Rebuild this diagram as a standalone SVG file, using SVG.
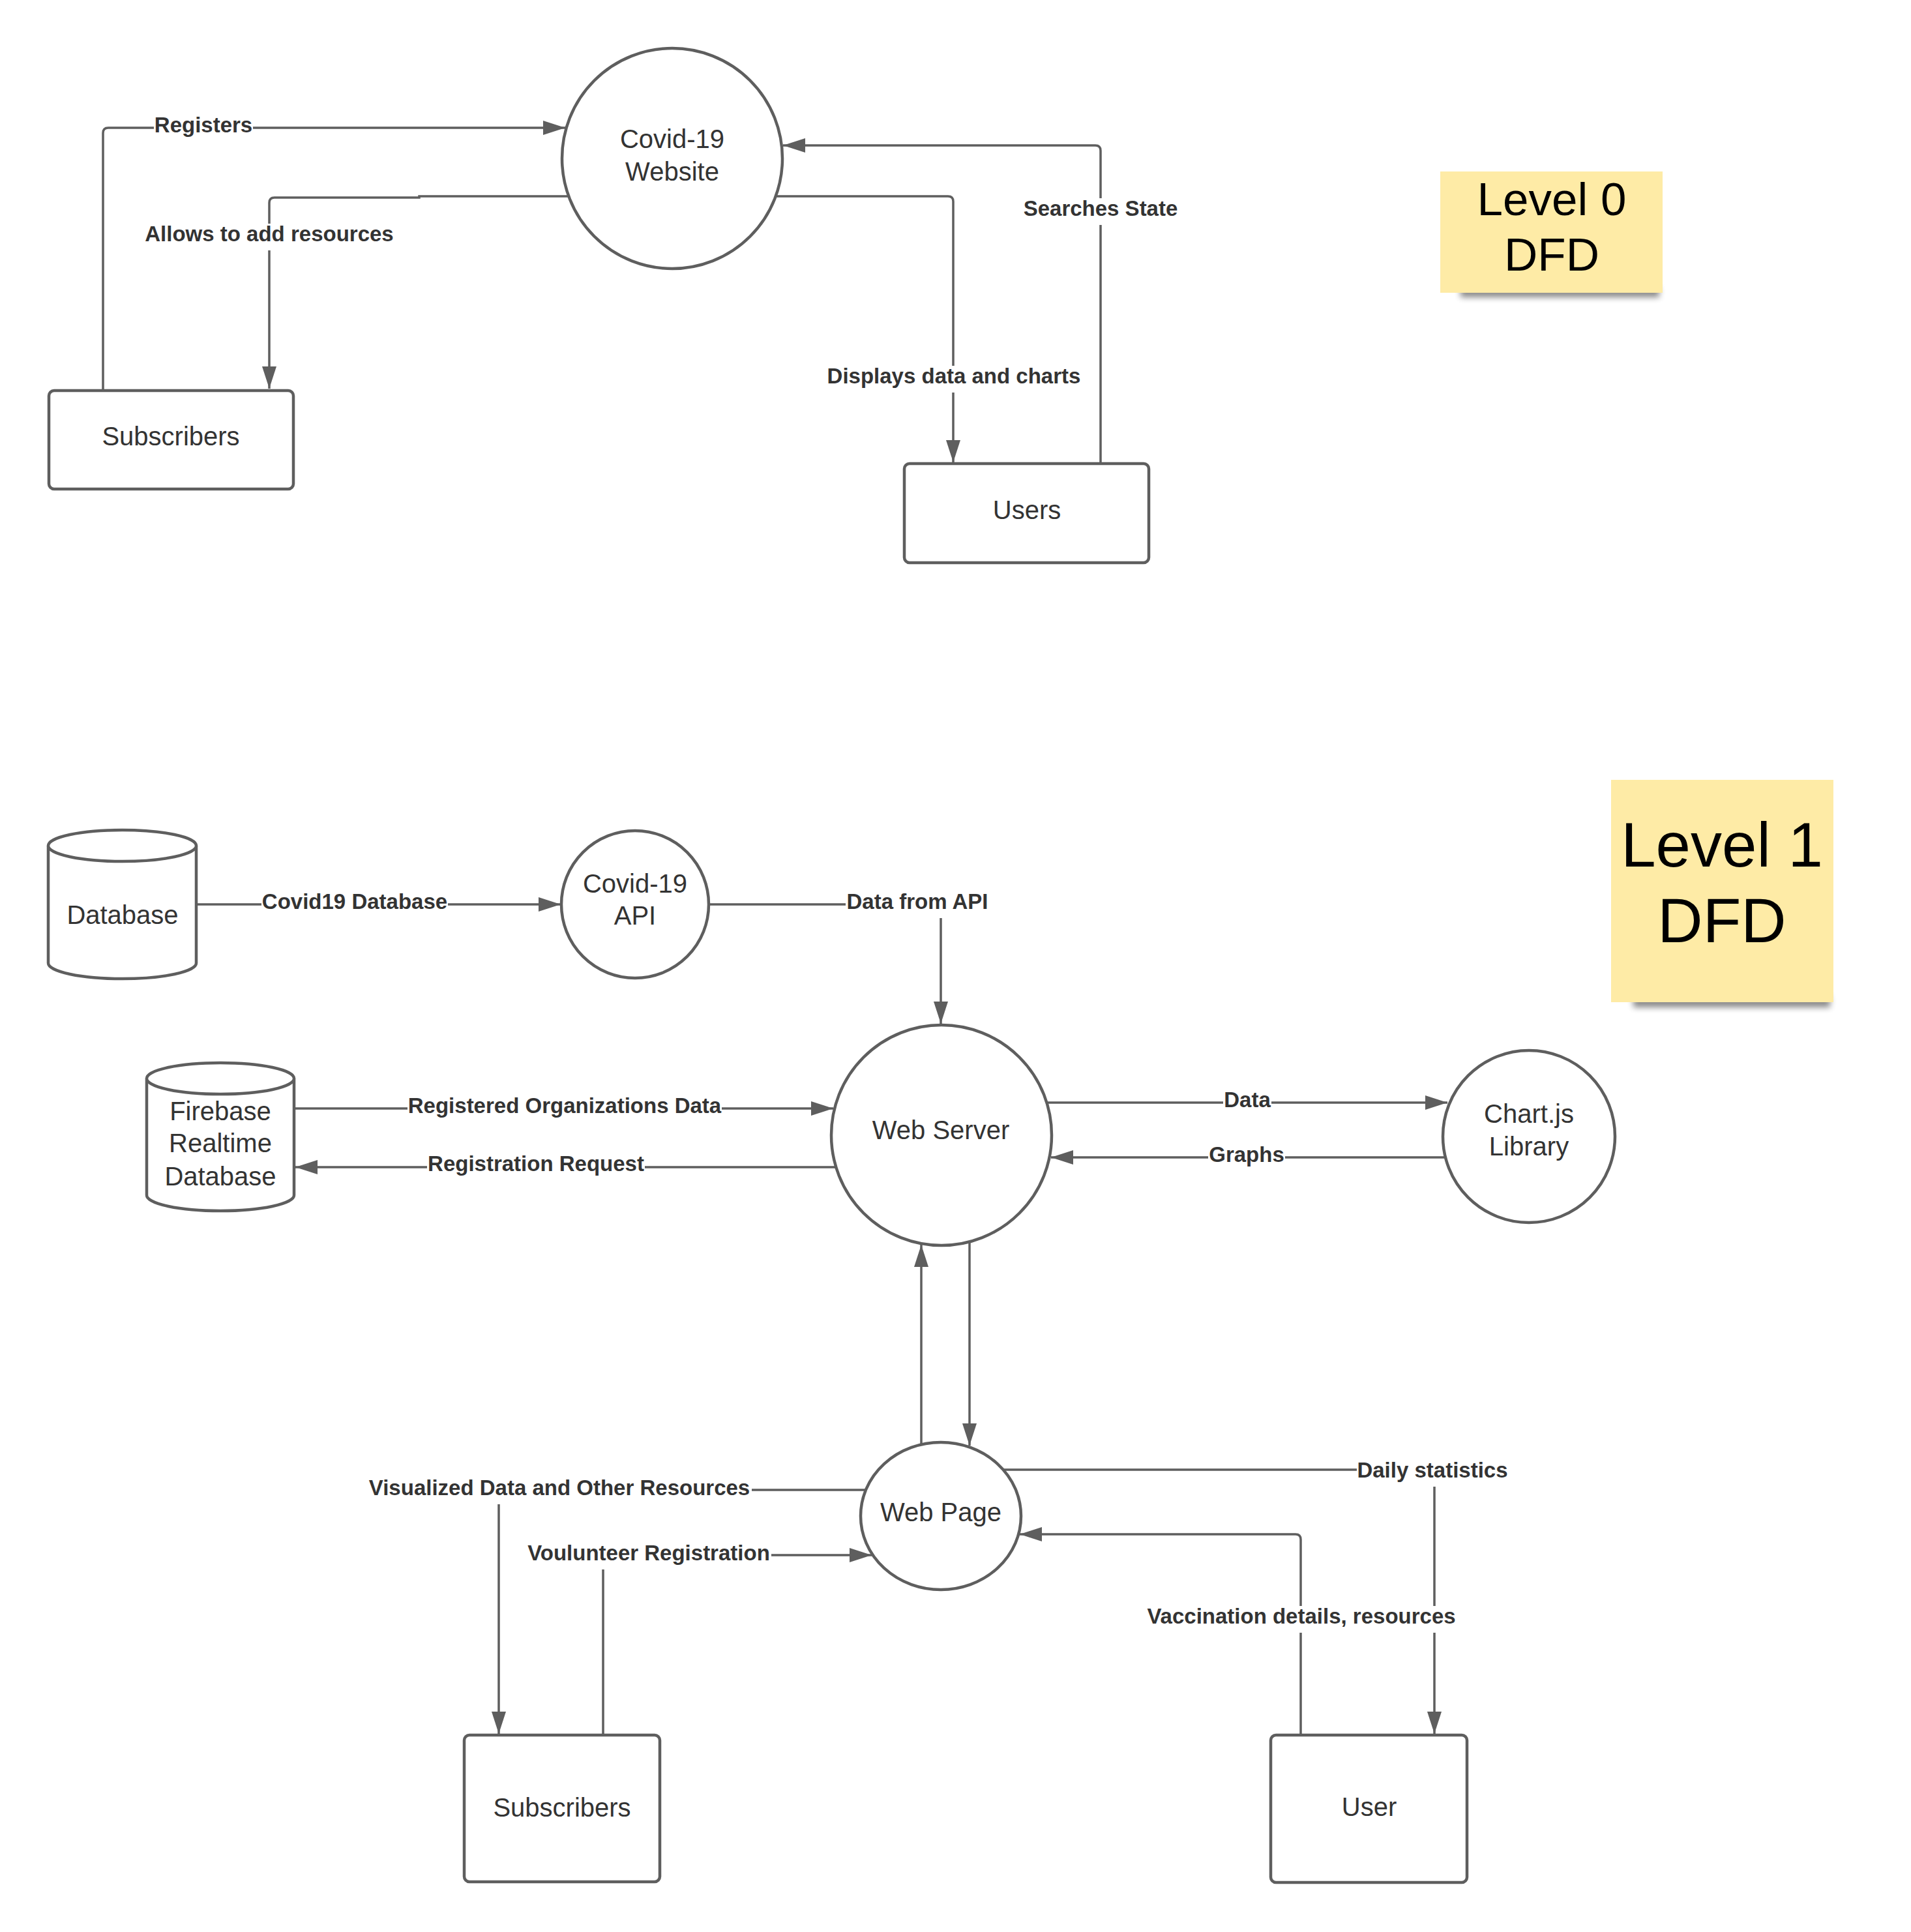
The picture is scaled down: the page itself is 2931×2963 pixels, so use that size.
<svg xmlns="http://www.w3.org/2000/svg" width="2931" height="2963" viewBox="0 0 2931 2963">
<style>
.shape{fill:#ffffff;stroke:#5e5e5e;stroke-width:4.5}
.conn{fill:none;stroke:#5e5e5e;stroke-width:3.5}
.arr{marker-end:url(#arrow)}
.nt{font-family:"Liberation Sans",Arial,sans-serif;font-size:40px;fill:#333333;text-anchor:middle}
.lb{font-family:"Liberation Sans",Arial,sans-serif;font-size:33px;font-weight:bold;fill:#333333;text-anchor:middle}
.lbg{fill:#ffffff}
.note{fill:#feeba6}
.nt2{font-family:"Liberation Sans",Arial,sans-serif;fill:#000000;text-anchor:middle}
</style>
<defs>
<marker id="arrow" markerUnits="userSpaceOnUse" markerWidth="36" markerHeight="24" refX="34" refY="12" orient="auto">
<path d="M0,1 L34,12 L0,23 Z" fill="#5e5e5e"/>
</marker>
<filter id="shadow" x="-20%" y="-200%" width="140%" height="500%">
<feGaussianBlur stdDeviation="5"/>
</filter>
</defs>
<rect width="2931" height="2963" fill="#ffffff"/>

<g id="connectors">
<path class="conn arr" d="M158,599 L158,204 Q158,196 166,196 L867,196"/>
<path class="conn arr" d="M872,301 L643,301 L643,303 L421,303 Q413,303 413,311 L413,596"/>
<path class="conn arr" d="M1190,301 L1454,301 Q1462,301 1462,309 L1462,709"/>
<path class="conn arr" d="M1688,711 L1688,231 Q1688,223 1680,223 L1201,223"/>
<path class="conn arr" d="M301,1387 L860,1387"/>
<path class="conn arr" d="M1087,1387 L1443,1387 L1443,1570"/>
<path class="conn arr" d="M451,1700 L1278,1700"/>
<path class="conn arr" d="M1282,1790 L453,1790"/>
<path class="conn arr" d="M1606,1691 L2220,1691"/>
<path class="conn arr" d="M2216,1775 L1612,1775"/>
<path class="conn arr" d="M1413,2215 L1413,1909"/>
<path class="conn arr" d="M1487,1904 L1487,2217"/>
<path class="conn arr" d="M1539,2254 L2192,2254 Q2200,2254 2200,2262 L2200,2659"/>
<path class="conn arr" d="M1995,2661 L1995,2361 Q1995,2353 1987,2353 L1564,2353"/>
<path class="conn arr" d="M1328,2285 L773,2285 Q765,2285 765,2293 L765,2659"/>
<path class="conn arr" d="M925,2661 L925,2385 L1337,2385"/>
</g>

<g id="connector-labels">
<rect class="lbg" x="236" y="176" width="152" height="41"/>
<text class="lb" x="312" y="203">Registers</text>
<rect class="lbg" x="221" y="343" width="384" height="41"/>
<text class="lb" x="413" y="370">Allows to add resources</text>
<rect class="lbg" x="1267" y="561" width="392" height="41"/>
<text class="lb" x="1463" y="588">Displays data and charts</text>
<rect class="lbg" x="1568" y="304" width="240" height="41"/>
<text class="lb" x="1688" y="331">Searches State</text>
<rect class="lbg" x="401" y="1367" width="286" height="41"/>
<text class="lb" x="544" y="1394">Covid19 Database</text>
<rect class="lbg" x="1297" y="1367" width="220" height="41"/>
<text class="lb" x="1407" y="1394">Data from API</text>
<rect class="lbg" x="625" y="1680" width="482" height="41"/>
<text class="lb" x="866" y="1707">Registered Organizations Data</text>
<rect class="lbg" x="655" y="1769" width="334" height="41"/>
<text class="lb" x="822" y="1796">Registration Request</text>
<rect class="lbg" x="1876" y="1671" width="74" height="41"/>
<text class="lb" x="1913" y="1698">Data</text>
<rect class="lbg" x="1853" y="1755" width="118" height="41"/>
<text class="lb" x="1912" y="1782">Graphs</text>
<rect class="lbg" x="563" y="2266" width="590" height="41"/>
<text class="lb" x="858" y="2293">Visualized Data and Other Resources</text>
<rect class="lbg" x="807" y="2366" width="376" height="41"/>
<text class="lb" x="995" y="2393">Voulunteer Registration</text>
<rect class="lbg" x="2081" y="2239" width="234" height="41"/>
<text class="lb" x="2197" y="2266">Daily statistics</text>
<rect class="lbg" x="1757" y="2463" width="478" height="41"/>
<text class="lb" x="1996" y="2490">Vaccination details, resources</text>
</g>

<g id="covid-website">
<circle class="shape" cx="1031" cy="243" r="169"/>
<text class="nt" x="1031" y="227">Covid-19</text>
<text class="nt" x="1031" y="277">Website</text>
</g>
<g id="subscribers-l0">
<rect class="shape" x="75" y="599" width="375" height="151" rx="8"/>
<text class="nt" x="262" y="683">Subscribers</text>
</g>
<g id="users-l0">
<rect class="shape" x="1387" y="711" width="375" height="152" rx="8"/>
<text class="nt" x="1575" y="796">Users</text>
</g>
<g id="note-level0">
<rect x="2240" y="440" width="305" height="16" fill="#000000" opacity="0.45" filter="url(#shadow)"/>
<rect class="note" x="2209" y="263" width="341" height="186"/>
<text class="nt2" x="2380" y="330" font-size="71">Level 0</text>
<text class="nt2" x="2380" y="415" font-size="71">DFD</text>
</g>

<g id="database">
<path class="shape" d="M74,1297 A113.5,24 0 0 1 301,1297 L301,1477 A113.5,24 0 0 1 74,1477 Z"/>
<path class="shape" fill="none" d="M74,1297 A113.5,24 0 0 0 301,1297"/>
<text class="nt" x="188" y="1417">Database</text>
</g>
<g id="covid-api">
<circle class="shape" cx="974" cy="1387" r="113"/>
<text class="nt" x="974" y="1369">Covid-19</text>
<text class="nt" x="974" y="1418">API</text>
</g>
<g id="web-server">
<circle class="shape" cx="1444" cy="1741" r="169"/>
<text class="nt" x="1443" y="1747">Web Server</text>
</g>
<g id="firebase">
<path class="shape" d="M225,1654 A113,24 0 0 1 451,1654 L451,1833 A113,24 0 0 1 225,1833 Z"/>
<path class="shape" fill="none" d="M225,1654 A113,24 0 0 0 451,1654"/>
<text class="nt" x="338" y="1718">Firebase</text>
<text class="nt" x="338" y="1767">Realtime</text>
<text class="nt" x="338" y="1818">Database</text>
</g>
<g id="chartjs">
<circle class="shape" cx="2345" cy="1743" r="132"/>
<text class="nt" x="2345" y="1722">Chart.js</text>
<text class="nt" x="2345" y="1772">Library</text>
</g>
<g id="web-page">
<ellipse class="shape" cx="1443" cy="2325" rx="123" ry="113"/>
<text class="nt" x="1443" y="2333">Web Page</text>
</g>
<g id="subscribers-l1">
<rect class="shape" x="712" y="2661" width="300" height="225" rx="8"/>
<text class="nt" x="862" y="2786">Subscribers</text>
</g>
<g id="user-l1">
<rect class="shape" x="1949" y="2661" width="301" height="226" rx="8"/>
<text class="nt" x="2100" y="2785">User</text>
</g>
<g id="note-level1">
<rect x="2505" y="1527" width="302" height="18" fill="#000000" opacity="0.45" filter="url(#shadow)"/>
<rect class="note" x="2471" y="1196" width="341" height="341"/>
<text class="nt2" x="2641" y="1329" font-size="96">Level 1</text>
<text class="nt2" x="2641" y="1445" font-size="96">DFD</text>
</g>
</svg>
